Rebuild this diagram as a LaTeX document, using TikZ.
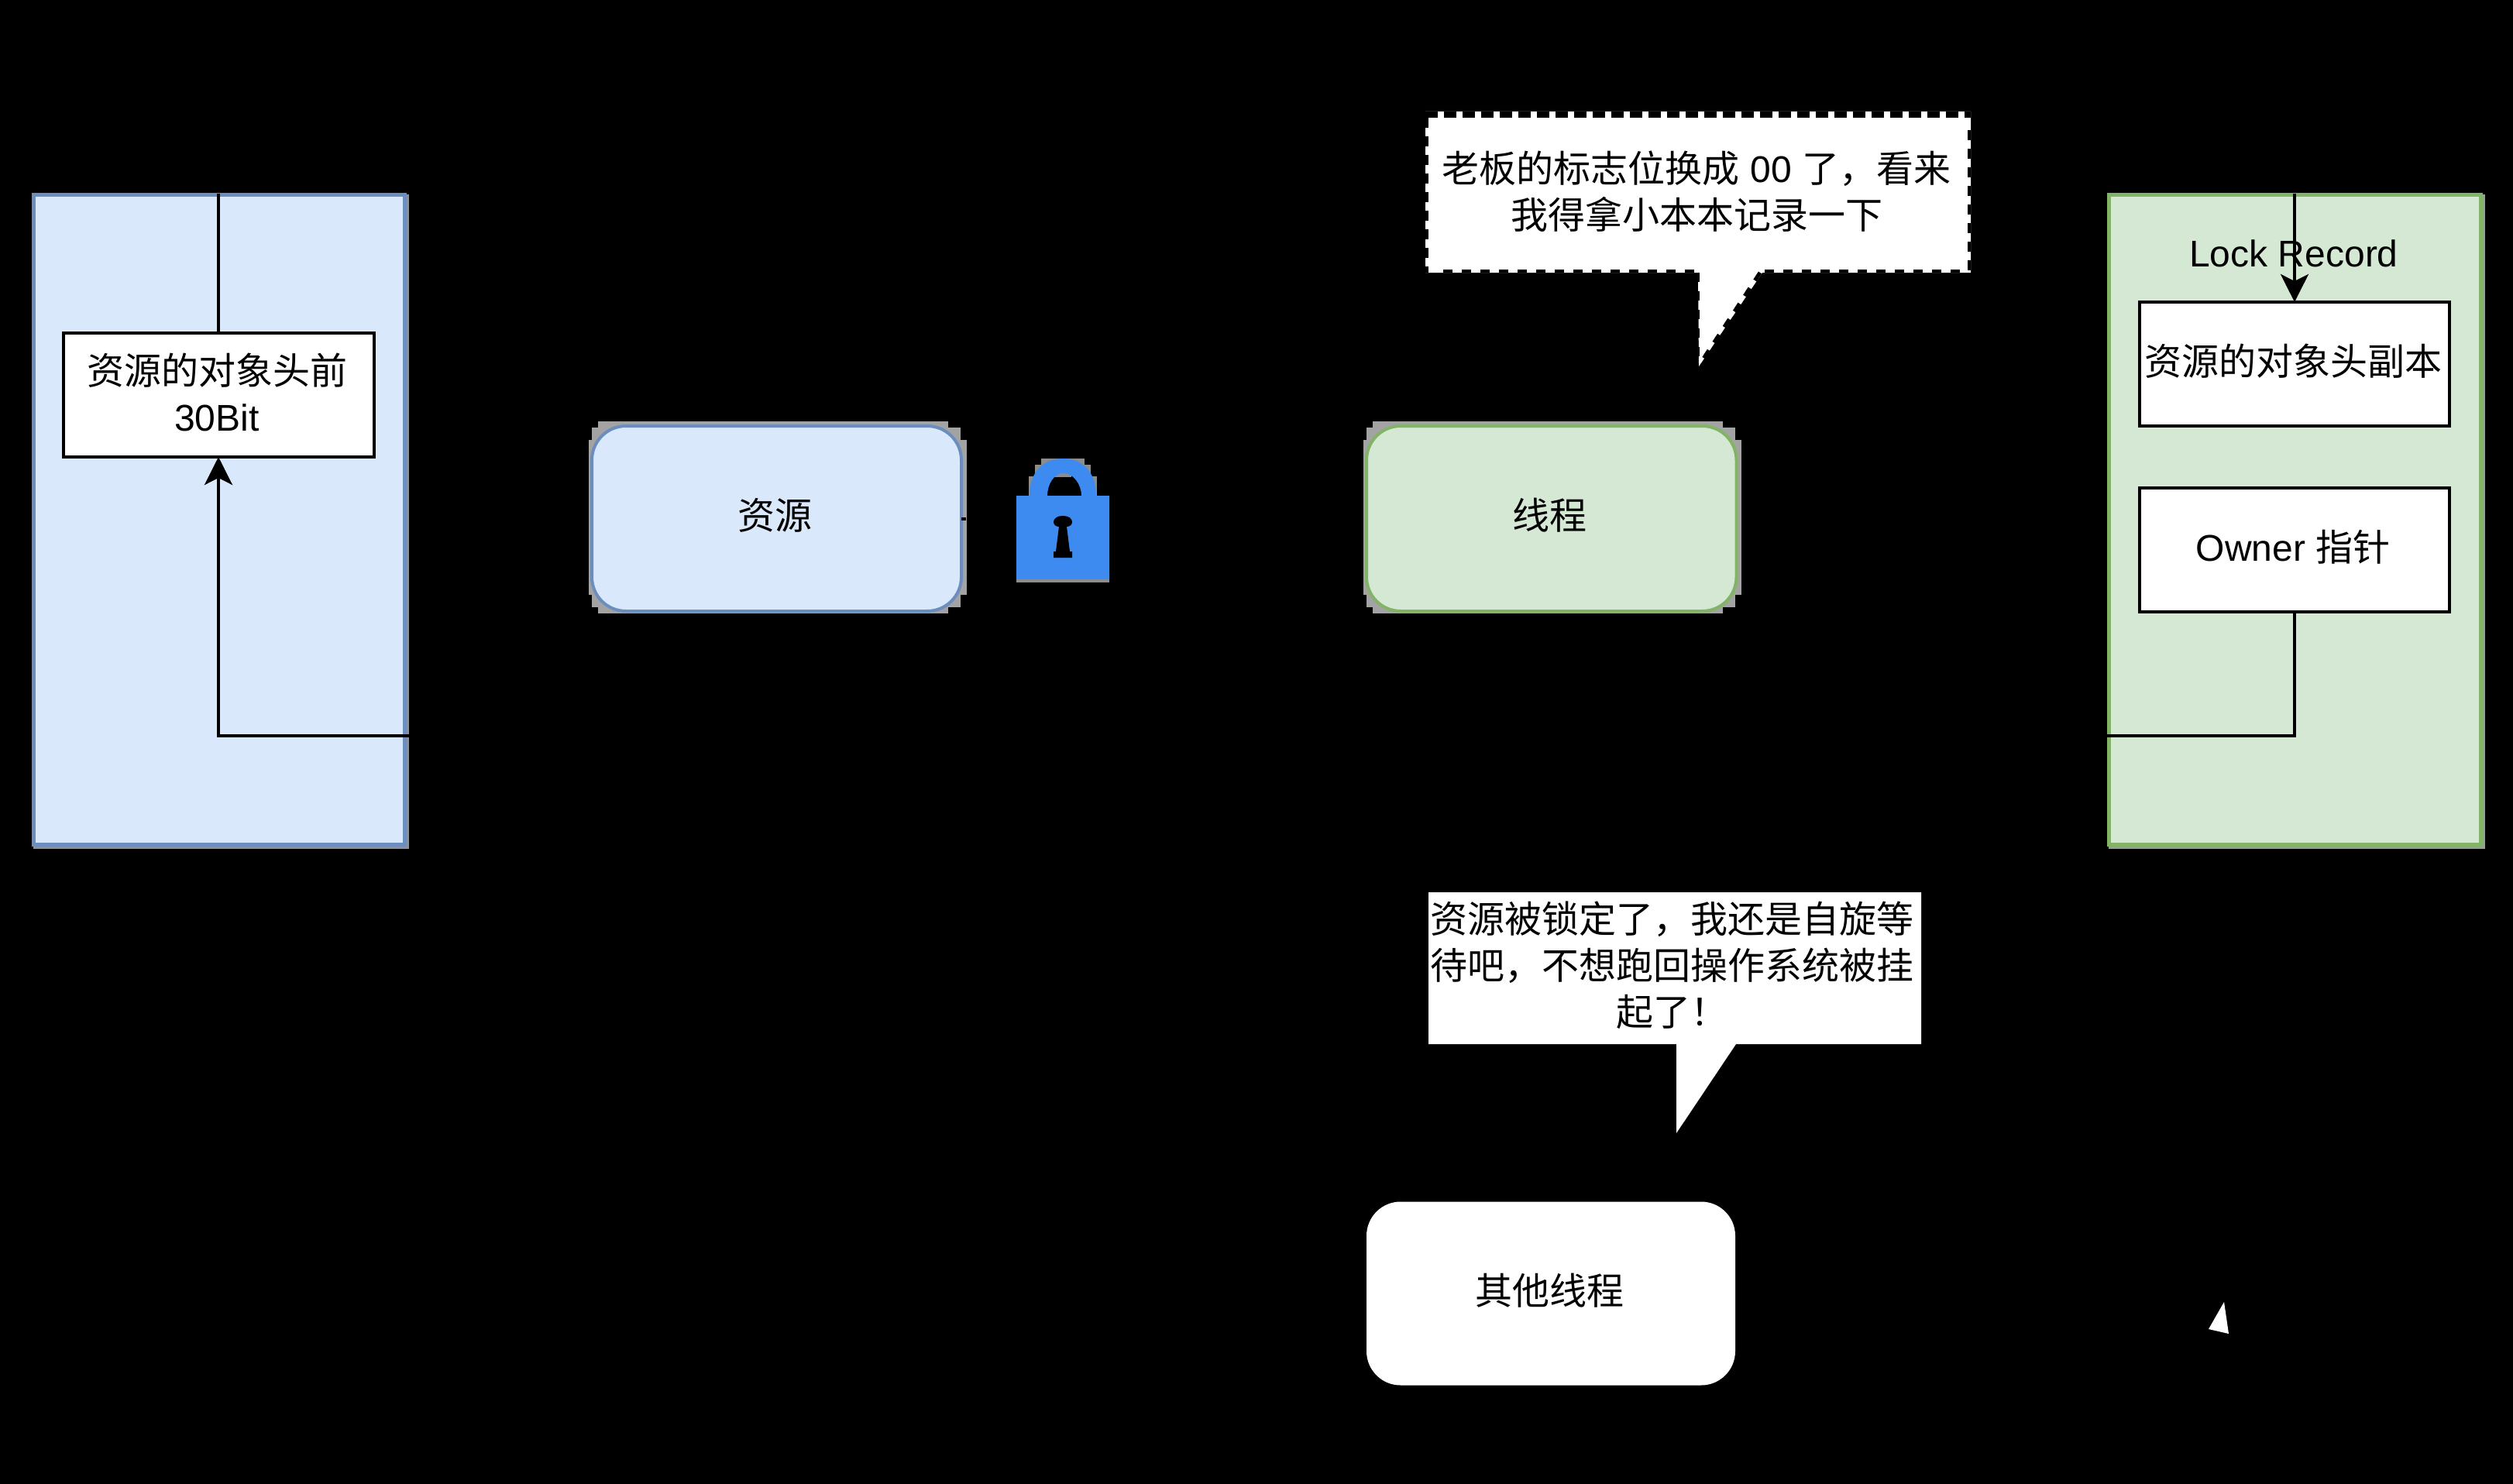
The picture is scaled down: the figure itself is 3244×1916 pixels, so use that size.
\documentclass[tikz,border=0pt]{standalone}
\usepackage{fontspec}
\setmainfont{Liberation Sans}
\newfontfamily\cjk{Noto Sans CJK SC}
\usetikzlibrary{arrows.meta,calc}
\definecolor{bluefill}{HTML}{DAE8FC}
\definecolor{blueline}{HTML}{6C8EBF}
\definecolor{greenfill}{HTML}{D5E8D4}
\definecolor{greenline}{HTML}{82B366}
\definecolor{lockblue}{HTML}{3D8BF0}
\definecolor{halogray}{HTML}{A3A3A3}
\definecolor{edgeblue}{HTML}{8E9098}
\definecolor{edgegreen}{HTML}{93A093}
\definecolor{lockgray}{HTML}{8C8C8C}
\newcommand{\fwcomma}{\char"FF0C\relax}
\newcommand{\fwbang}{\char"FF01\relax}
\tikzset{
  base/.style={font=\fontsize{48}{60}\selectfont,align=center,inner sep=0pt,outer sep=0pt,text=black},
  panelblue/.style={base,draw=blueline,fill=bluefill,line width=5pt},
  panelgreen/.style={base,draw=greenline,fill=greenfill,line width=5pt},
  whitebox/.style={base,draw=black,fill=white,line width=4pt},
  rounded/.style={rounded corners=44pt},
  caption/.style={label={[base,xshift=-2pt,yshift=4pt]center:#1}},
  conn/.style={draw=black,line width=4pt},
  arrow/.style={conn,-{Stealth[length=36pt,width=36pt,inset=9pt]}},
  say/.style={base},
  dashthick/.style={draw=black,line width=8pt,dash pattern=on 16pt off 8pt},
  dashthin/.style={draw=black,line width=4pt,dash pattern=on 12pt off 12pt},
  dashside/.style={draw=black,line width=4pt,dash pattern=on 13pt off 11pt},
  halo/.style={fill=halogray}
}
\newcommand{\halobox}[4]{%
  \fill[halo] ({#1+12},#2) rectangle ({#3-24},#4);
  \fill[halo] (#1,{#2+24}) rectangle (#3,{#4-24});
  \fill[halo] ({#1+4},{#2+8}) rectangle ({#3-8},{#4-8});
}
\begin{document}
\begin{tikzpicture}[x=1pt,y=-1pt]
\fill[black] (0,0) rectangle (3244,1916);
\useasboundingbox (0,0) rectangle (3244,1916);

% left panel
\fill[edgeblue] (43,251) rectangle (528,1096);
\node[panelblue,minimum width=479pt,minimum height=839pt] (header) at (282.5,670.5) {};
\node[whitebox,minimum width=401pt,minimum height=160pt,caption={{\cjk 资源的对象头前}\\30Bit}] (front) at (282,510) {};
\coordinate (headerin) at (528,950);
\coordinate (headerbend) at (282,950);
\coordinate (headertop) at (282,250);
\draw[conn] (headertop) -- (front.north);
\draw[arrow] (headerin) -- (headerbend) -- (front.south);

% resource, lock, thread
\halobox{760}{544}{1248}{792}
\node[panelblue,rounded,line width=4pt,minimum width=477pt,minimum height=239pt,caption={\cjk 资源}] (res) at (1002.5,669.5) {};
\coordinate (nub) at ($(res.east)+(6,0)$);
\draw[conn] (res.east) -- (nub);

\fill[lockgray] (1344,592) rectangle (1400,620);
\fill[lockgray] (1336,600) rectangle (1408,625);
\fill[lockgray] (1328,615) rectangle (1416,640);
\fill[black] (1352,640) -- (1396,640) -- (1396,625) -- (1383,610) -- (1360,610) -- (1352,625) -- cycle;
\fill[lockgray] (1360,610) rectangle (1383,616);
\fill[lockblue,even odd rule] (1312,640) -- (1329,640) .. controls (1329,609) and (1347,592) .. (1372,592) .. controls (1397,592) and (1415,609) .. (1415,640) -- (1432,640) -- (1432,748) -- (1312,748) -- cycle
  (1352,640) -- (1396,640) .. controls (1396,626) and (1386,611) .. (1373,611) .. controls (1360,611) and (1352,626) .. (1352,640) -- cycle;
\fill[lockgray] (1312,748) rectangle (1432,752);
\fill[black] (1360,674) .. controls (1360,669) and (1365,666) .. (1372,666) .. controls (1379,666) and (1384,669) .. (1384,674) .. controls (1384,678) and (1380,680) .. (1377,680) -- (1381,712) -- (1384,712) -- (1384,720) -- (1360,720) -- (1360,712) -- (1363,712) -- (1367,680) .. controls (1364,680) and (1360,678) .. (1360,674) -- cycle;

\halobox{1760}{544}{2248}{792}
\node[panelgreen,rounded,line width=4pt,minimum width=477.5pt,minimum height=239pt,caption={\cjk 线程}] (thread) at (2002.75,669.5) {};

% callout 1
\fill[white] (1840,144) -- (2544,144) -- (2544,352) -- (2275,352) -- (2193,473) -- (2192,352) -- (1840,352) -- cycle;
\draw[dashthick] (1840,148) -- (2544,148);
\draw[dashside] (1842,152) -- (1842,352);
\draw[dashside] (2542,168) -- (2542,352);
\draw[dashthin] (1863,350) -- (2192,350);
\draw[dashthin] (2278,350) -- (2540,350);
\draw[dashthin,line width=2pt] (2193,352) -- (2193,470);
\draw[dashthin,line width=5pt] (2272,352) -- (2193,472);
\node[say] (say1) at (2190,247) {{\cjk 老板的标志位换成} 00 {\cjk 了\fwcomma 看来}\\{\cjk 我得拿小本本记录一下}};

% right panel
\fill[edgegreen] (2722,251) rectangle (3208,1096);
\node[panelgreen,minimum width=480pt,minimum height=839pt] (record) at (2962,670.5) {};
\node[base] (recordlabel) at (2961,327) {Lock Record};
\node[whitebox,minimum width=400pt,minimum height=160pt,caption={\cjk 资源的对象头副本}] (copy) at (2962,470) {};
\node[whitebox,minimum width=400pt,minimum height=160pt,caption={Owner {\cjk 指针}}] (owner) at (2962,710) {};
\coordinate (recordtop) at (2962,250);
\coordinate (ownerbend) at (2962,950);
\coordinate (ownerout) at (2720,950);
\draw[arrow] (recordtop) -- (copy.north);
\draw[conn] (owner.south) -- (ownerbend) -- (ownerout);

% callout 2
\fill[white] (1844,1152) -- (2480,1152) -- (2480,1348) -- (2241,1348) -- (2164,1463) -- (2164,1348) -- (1844,1348) -- cycle;
\node[say] (say2) at (2158,1246) {{\cjk 资源被锁定了\fwcomma 我还是自旋等}\\{\cjk 待吧\fwcomma 不想跑回操作系统被挂}\\{\cjk 起了\fwbang}};

% other thread
\node[base,fill=white,rounded,minimum width=476pt,minimum height=237pt,caption={\cjk 其他线程}] (other) at (2002,1670) {};

% fragment of white
\fill[white] (2871,1681) -- (2851,1716) -- (2877,1722) -- cycle;
\end{tikzpicture}
\end{document}
